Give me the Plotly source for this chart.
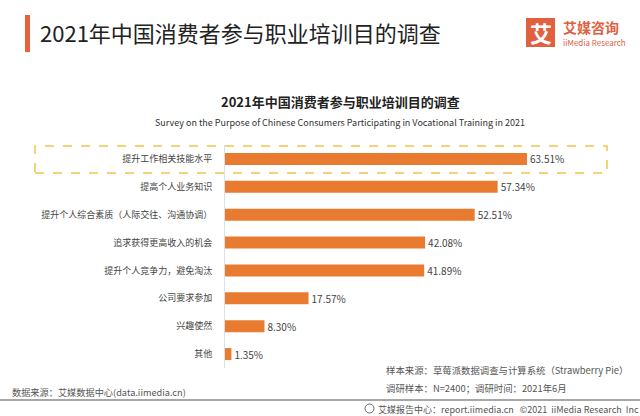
import plotly.graph_objects as go

categories = ["提升工作相关技能水平", "提高个人业务知识", "提升个人综合素质（人际交往、沟通协调）",
              "追求获得更高收入的机会", "提升个人竞争力，避免淘汰", "公司要求参加", "兴趣使然", "其他"]
values = [63.51, 57.34, 52.51, 42.08, 41.89, 17.57, 8.30, 1.35]
value_labels = [f"{v:.2f}%" for v in values]

W, H = 640, 416
FONT = "Noto Sans CJK SC"
ORANGE = "#E97B30"

def px(x):
    return x / W

def py(y):
    return 1 - y / H

fig = go.Figure()
fig.add_trace(go.Bar(
    x=values, y=categories, orientation="h",
    marker=dict(color=ORANGE, line=dict(width=0)),
    width=0.43,
    text=value_labels, textposition="outside", cliponaxis=False, constraintext="none",
    textfont=dict(family=FONT, size=10, color="#444"),
))

fig.update_layout(
    width=W, height=H,
    margin=dict(l=0, r=0, t=0, b=0),
    paper_bgcolor="white", plot_bgcolor="white",
    showlegend=False,
    font=dict(family=FONT),
    xaxis=dict(domain=[px(225), 1], range=[0, 415 / 4.755], visible=False),
    yaxis=dict(domain=[py(368), py(145)], autorange="reversed",
               showline=True, linecolor="#D8E0E8", linewidth=1,
               ticks="", ticklabelstandoff=10,
               tickfont=dict(family=FONT, size=9, color="#444"),
               showgrid=False, zeroline=False),
)

shapes = [
    # title accent bar
    dict(type="rect", xref="paper", yref="paper", x0=px(25), x1=px(30), y0=py(52), y1=py(15),
         fillcolor="#E8603C", line=dict(width=0)),
    # logo square
    dict(type="rect", xref="paper", yref="paper", x0=px(526), x1=px(555), y0=py(47), y1=py(18),
         fillcolor="#E0603F", line=dict(width=0)),
    # highlight dashed box
    dict(type="rect", xref="paper", yref="paper", x0=px(35), x1=px(607), y0=py(173), y1=py(146),
         fillcolor="rgba(0,0,0,0)", line=dict(color="#F2C44E", width=1.5, dash="dash")),
    # footer line
    dict(type="line", xref="paper", yref="paper", x0=0, x1=1, y0=py(400), y1=py(400),
         line=dict(color="#8A8A8A", width=1.5)),
    # footer icon
    dict(type="circle", xref="paper", yref="paper", x0=px(365), x1=px(374), y0=py(413), y1=py(404),
         fillcolor="rgba(0,0,0,0)", line=dict(color="#666", width=1)),
]

def ann(x, y, text, size, color="#333", xanchor="left", bold=False, family=FONT):
    if bold:
        text = f"<b>{text}</b>"
    return dict(x=px(x), y=py(y), xref="paper", yref="paper", text=text, showarrow=False,
                xanchor=xanchor, yanchor="middle", font=dict(family=family, size=size, color=color))

annotations = [
    ann(38, 32, "2021年中国消费者参与职业培训目的调查", 22, "#222"),
    ann(540.5, 32, "艾", 22, "white", xanchor="center", bold=True),
    ann(561, 27, "艾媒咨询", 14, "#E0603F", bold=True),
    ann(561, 43, "iiMedia Research", 8, "#E0603F"),
    ann(340, 101, "2021年中国消费者参与职业培训目的调查", 13, "#222", xanchor="center", bold=True),
    ann(340, 122, "Survey on the Purpose of Chinese Consumers Participating in Vocational Training in 2021",
        9, "#333", xanchor="center"),
    ann(384, 370, "样本来源：草莓派数据调查与计算系统（Strawberry Pie）", 9.4, "#555"),
    ann(384, 388, "调研样本：N=2400；调研时间：2021年6月", 9.4, "#555"),
    ann(10, 392, "数据来源：艾媒数据中心(data.iimedia.cn)", 9.2, "#555"),
    ann(376, 409, "艾媒报告中心：report.iimedia.cn   ©2021  iiMedia Research  Inc", 9, "#555"),
]

fig.update_layout(shapes=shapes, annotations=annotations)
fig.write_html("out.html", config={"displayModeBar": False},
               post_script="document.body.style.margin='0';document.body.style.overflow='hidden';")
